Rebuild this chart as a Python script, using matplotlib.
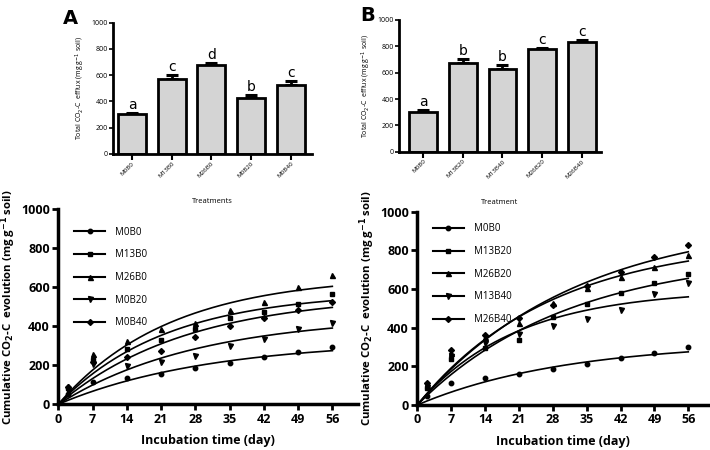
import numpy as np
import matplotlib.pyplot as plt

plt.rcParams['font.family'] = ['Open Sans', 'DejaVu Sans']

# --- bar data (total CO2-C efflux) ---
treat_a = ["M0B0", "M13B0", "M26B0", "M0B20", "M0B40"]
total_a = [302, 574, 675, 426, 528]
err_a = [10, 24, 18, 22, 28]
letters_a = ["a", "c", "d", "b", "c"]

treat_b = ["M0B0", "M13B20", "M13B40", "M26B20", "M26B40"]
total_b = [304, 676, 625, 777, 833]
err_b = [10, 26, 30, 12, 18]
letters_b = ["a", "b", "b", "c", "c"]

# --- cumulative evolution data ---
days = [2, 7, 14, 21, 28, 35, 42, 49, 56]

labels_a = ["M0B0", "M13B0", "M26B0", "M0B20", "M0B40"]
cum_a = [
    [55, 113, 133, 156, 185, 210, 241, 267, 296],
    [85, 225, 284, 330, 385, 441, 475, 513, 566],
    [95, 256, 326, 388, 419, 482, 525, 603, 665],
    [70, 205, 197, 219, 250, 299, 333, 388, 419],
    [90, 215, 241, 275, 344, 402, 441, 484, 523],
]
# first-order fit parameters C0 (mg/g) and k (1/day)
c0_a = [328, 578, 661, 455, 564]
k_a = [0.0325, 0.045, 0.044, 0.035, 0.038]

labels_b = ["M0B0", "M13B20", "M26B20", "M13B40", "M26B40"]
cum_b = [
    [45, 115, 138, 160, 186, 212, 241, 267, 298],
    [90, 236, 293, 336, 453, 520, 581, 633, 676],
    [105, 268, 353, 422, 530, 603, 664, 716, 776],
    [95, 255, 319, 367, 409, 443, 491, 573, 629],
    [115, 284, 362, 448, 517, 616, 690, 764, 828],
]
c0_b = [328, 786, 859, 598, 968]
k_b = [0.0325, 0.032, 0.036, 0.049, 0.0305]

markers = ["o", "s", "^", "v", "D"]
msizes = [3.2, 3.2, 3.6, 3.6, 3.0]

fig = plt.figure(figsize=(7.10, 4.50), dpi=100)


def bar_panel(rect, names, vals, errs, letters, xlab, xlim):
    ax = fig.add_axes(rect)
    x = np.arange(len(names))
    ax.bar(x, vals, width=0.7, color="#d4d4d4", edgecolor="black", linewidth=2, zorder=2)
    ax.errorbar(x, vals, yerr=[np.zeros(len(errs)), errs], fmt="none", ecolor="black",
                elinewidth=2, capsize=4.5, capthick=2.2, zorder=1)
    for xi, v, e, l in zip(x, vals, errs, letters):
        ax.text(xi, v + e + 8, l, ha="center", va="bottom", fontsize=10, family="DejaVu Sans")
    ax.set_xlim(*xlim)
    ax.set_ylim(0, 1000)
    ax.set_yticks([0, 200, 400, 600, 800, 1000])
    ax.set_xticks(x)
    ax.set_xticklabels(names, rotation=45, ha="right", rotation_mode="anchor", fontsize=4.5)
    ax.tick_params(axis="y", labelsize=5, width=1.2, length=3, pad=1)
    ax.tick_params(axis="x", width=1.5, length=4, pad=1)
    for s in ["top", "right"]:
        ax.spines[s].set_visible(False)
    for s in ["left", "bottom"]:
        ax.spines[s].set_linewidth(2)
    ax.set_ylabel("Total CO$_2$-C  efflux (mg g$^{-1}$ soil)", fontsize=5, labelpad=3)
    ax.set_xlabel(xlab, fontsize=5.5, labelpad=14)
    return ax


bar_panel([0.1596, 0.6578, 0.2794, 0.2918], treat_a, total_a, err_a, letters_a,
          "Treatments", (-0.47, 4.53))
bar_panel([0.5624, 0.6629, 0.2837, 0.2927], treat_b, total_b, err_b, letters_b,
          "Treatment", (-0.6, 4.48))

fig.text(0.089, 0.96, "A", fontsize=14, fontweight="bold", ha="left", va="center", family="DejaVu Sans")
fig.text(0.508, 0.965, "B", fontsize=14, fontweight="bold", ha="left", va="center", family="DejaVu Sans")


def curve_panel(rect, names, data, c0s, ks, xmax, legend_anchor):
    ax = fig.add_axes(rect)
    t = np.linspace(0, 56, 200)
    for name, vals, c0, k, m, ms in zip(names, data, c0s, ks, markers, msizes):
        ax.plot(t, c0 * (1 - np.exp(-k * t)), color="black", lw=1.2)
        ax.plot(days, vals, ls="none", marker=m, ms=ms, color="black")
        ax.plot([], [], color="black", lw=1.5, marker=m, ms=ms, label=name)
    ax.set_xlim(0, xmax)
    ax.set_ylim(0, 1000)
    ax.set_xticks([0, 7, 14, 21, 28, 35, 42, 49, 56])
    ax.set_yticks([0, 200, 400, 600, 800, 1000])
    ax.tick_params(labelsize=9, width=2, length=4, pad=2)
    for lab in ax.get_xticklabels() + ax.get_yticklabels():
        lab.set_fontweight("bold")
    for s in ["top", "right"]:
        ax.spines[s].set_visible(False)
    for s in ["left", "bottom"]:
        ax.spines[s].set_linewidth(2.5)
    ax.set_xlabel("Incubation time (day)", fontsize=9, fontweight="bold", labelpad=6)
    ax.set_ylabel("Cumulative CO$_\\mathbf{2}$-C  evolution (mg g$^\\mathbf{-1}$ soil)",
                  fontsize=8.2, fontweight="bold", labelpad=2)
    ax.legend(loc="upper left", bbox_to_anchor=legend_anchor, frameon=False, fontsize=7,
              handlelength=3.2, labelspacing=1.2, handletextpad=1.0, borderaxespad=0)
    return ax


curve_panel([0.0821, 0.1016, 0.4225, 0.4333], labels_a, cum_a, c0_a, k_a, 61.3, (0.04, 0.93))
curve_panel([0.5877, 0.1000, 0.4110, 0.4296], labels_b, cum_b, c0_b, k_b, 60.3, (0.04, 0.96))

fig.savefig("out.png", dpi=100)
